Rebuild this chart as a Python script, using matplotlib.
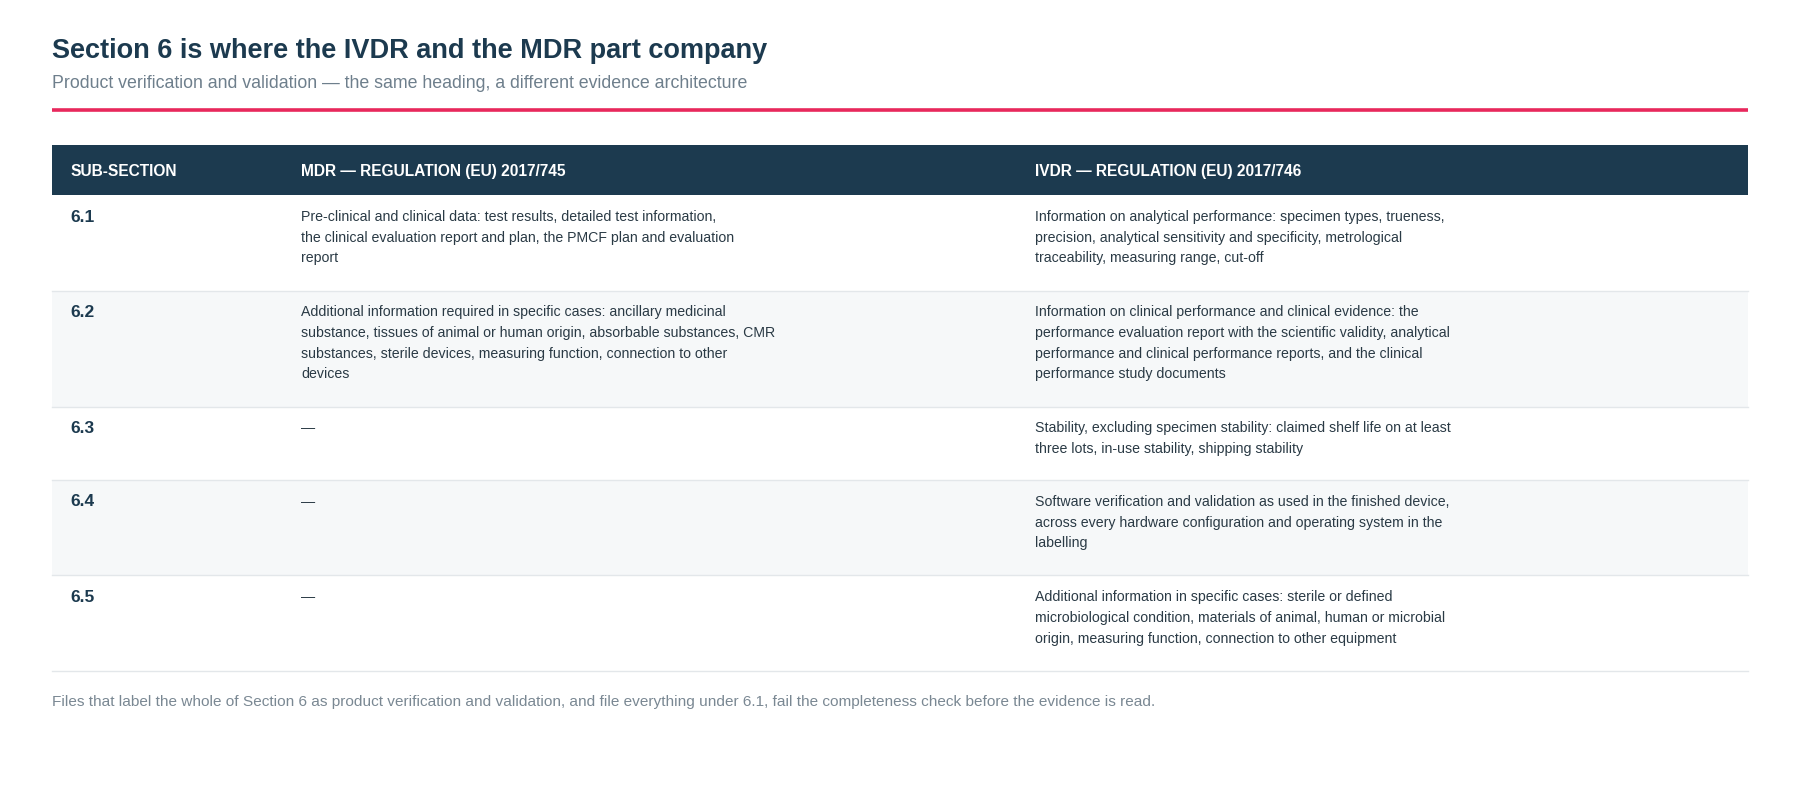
import matplotlib
matplotlib.use("Agg")
import matplotlib.pyplot as plt
from matplotlib.patches import Rectangle
from matplotlib.lines import Line2D

plt.rcParams['font.family'] = ['Liberation Sans', 'DejaVu Sans']

title = "Section 6 is where the IVDR and the MDR part company"
subtitle = "Product verification and validation — the same heading, a different evidence architecture"
headers = ["SUB-SECTION", "MDR — REGULATION (EU) 2017/745", "IVDR — REGULATION (EU) 2017/746"]
subsections = ["6.1", "6.2", "6.3", "6.4", "6.5"]
mdr = [
    ["Pre-clinical and clinical data: test results, detailed test information,",
     "the clinical evaluation report and plan, the PMCF plan and evaluation",
     "report"],
    ["Additional information required in specific cases: ancillary medicinal",
     "substance, tissues of animal or human origin, absorbable substances, CMR",
     "substances, sterile devices, measuring function, connection to other",
     "devices"],
    ["—"], ["—"], ["—"],
]
ivdr = [
    ["Information on analytical performance: specimen types, trueness,",
     "precision, analytical sensitivity and specificity, metrological",
     "traceability, measuring range, cut-off"],
    ["Information on clinical performance and clinical evidence: the",
     "performance evaluation report with the scientific validity, analytical",
     "performance and clinical performance reports, and the clinical",
     "performance study documents"],
    ["Stability, excluding specimen stability: claimed shelf life on at least",
     "three lots, in-use stability, shipping stability"],
    ["Software verification and validation as used in the finished device,",
     "across every hardware configuration and operating system in the",
     "labelling"],
    ["Additional information in specific cases: sterile or defined",
     "microbiological condition, materials of animal, human or microbial",
     "origin, measuring function, connection to other equipment"],
]
footer = ("Files that label the whole of Section 6 as product verification and validation, "
          "and file everything under 6.1, fail the completeness check before the evidence is read.")

W, H = 1800, 797
fig = plt.figure(figsize=(W / 100, H / 100), dpi=100)
ax = fig.add_axes([0, 0, 1, 1])
ax.set_xlim(0, 1567)
ax.set_ylim(694, 0)
ax.axis('off')

dark = "#1c3a4f"
ax.text(45, 44, title, fontsize=19.5, fontweight='bold', color=dark, va='center')
ax.text(45, 73, subtitle, fontsize=12.8, color="#6e7f8c", va='center')
ax.add_line(Line2D([45, 1522], [96, 96], color="#e8285c", lw=2.6, solid_capstyle='butt'))

ax.add_patch(Rectangle((45, 126), 1477, 44, color=dark, lw=0))
cols = [61, 262, 901]
for x, h in zip(cols, headers):
    ax.text(x, 149, h, fontsize=11.2, fontweight='bold', color='white', va='center')

bounds = [170, 253, 354, 418, 501, 584]
for i, sub in enumerate(subsections):
    top, bot = bounds[i], bounds[i + 1]
    if i % 2 == 1:
        ax.add_patch(Rectangle((45, top), 1477, bot - top, color="#f6f8f9", lw=0))
    ax.add_line(Line2D([45, 1522], [bot, bot], color="#e3e7ea", lw=1))
    ax.text(61, top + 19, sub, fontsize=12.5, fontweight='bold', color=dark, va='center')
    for j, line in enumerate(mdr[i]):
        ax.text(262, top + 19 + j * 18, line, fontsize=10.2, color="#2a3a45", va='center')
    for j, line in enumerate(ivdr[i]):
        ax.text(901, top + 19 + j * 18, line, fontsize=10.2, color="#2a3a45", va='center')

ax.text(45, 611, footer, fontsize=11.1, color="#7a8893", va='center')

fig.savefig("out.png", dpi=100, facecolor='white')
